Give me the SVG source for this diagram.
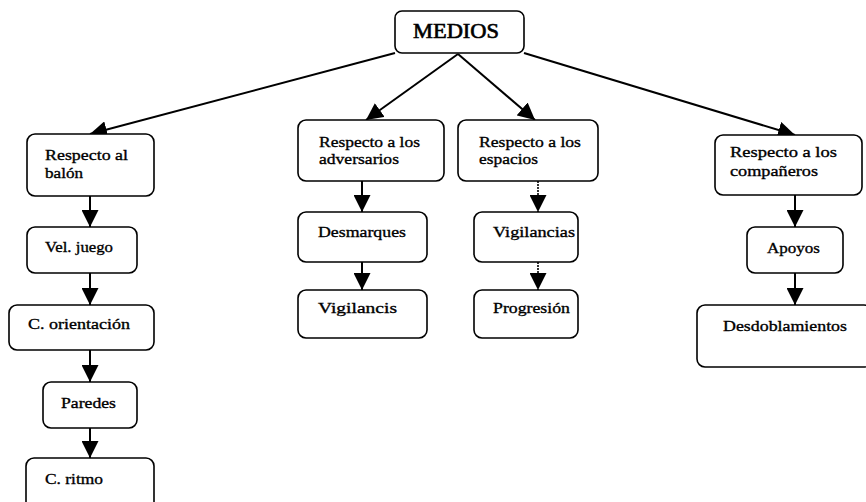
<svg xmlns="http://www.w3.org/2000/svg" width="866" height="502" viewBox="0 0 866 502">
<style>
.box{fill:#fff;stroke:#000;stroke-width:1.6}
.t{font-family:"Liberation Serif","Times New Roman",serif;font-size:15.5px;fill:#000;stroke:#000;stroke-width:0.35}
.big{font-size:20px;stroke-width:0.6}
.c{stroke:#000;stroke-width:2;fill:none;marker-end:url(#ah)}
.d{stroke-dasharray:2 1;stroke-width:1.6}
</style>
<defs>
<marker id="ah" markerUnits="userSpaceOnUse" markerWidth="17" markerHeight="17" refX="17" refY="8.5" orient="auto" viewBox="0 0 17 17">
<path d="M0,0 L17,8.5 L0,17 z" fill="#000"/>
</marker>
</defs>
<rect width="866" height="502" fill="#fff"/>
<g id="connectors">
<line class="c" x1="395" y1="53" x2="90" y2="134"/>
<line class="c" x1="458" y1="54" x2="366" y2="120"/>
<line class="c" x1="458" y1="54" x2="535" y2="120"/>
<line class="c" x1="524" y1="53" x2="795" y2="135"/>
<line class="c" x1="90" y1="196" x2="90" y2="227"/>
<line class="c" x1="90" y1="273" x2="90" y2="305"/>
<line class="c" x1="90" y1="350" x2="90" y2="382"/>
<line class="c" x1="90" y1="428" x2="90" y2="458"/>
<line class="c" x1="362" y1="181" x2="362" y2="212"/>
<line class="c" x1="362" y1="262" x2="362" y2="290"/>
<line class="c d" x1="538" y1="181" x2="538" y2="212"/>
<line class="c d" x1="538" y1="262" x2="538" y2="290"/>
<line class="c" x1="795" y1="195" x2="795" y2="227"/>
<line class="c" x1="795" y1="273" x2="795" y2="305"/>
</g>
<g id="medios">
<rect class="box" x="395" y="11" width="129" height="42" rx="7"/>
<text class="t big" x="413" y="38" textLength="86" lengthAdjust="spacingAndGlyphs">MEDIOS</text>
</g>
<g id="balon">
<rect class="box" x="27" y="134" width="127" height="62" rx="8"/>
<text class="t" x="45" y="160" textLength="83" lengthAdjust="spacingAndGlyphs">Respecto al</text>
<text class="t" x="45" y="178" textLength="38" lengthAdjust="spacingAndGlyphs">balón</text>
</g>
<g id="veljuego">
<rect class="box" x="27" y="227" width="110" height="46" rx="8"/>
<text class="t" x="45" y="252" textLength="68" lengthAdjust="spacingAndGlyphs">Vel. juego</text>
</g>
<g id="orientacion">
<rect class="box" x="9" y="305" width="145" height="45" rx="8"/>
<text class="t" x="28" y="329" textLength="102" lengthAdjust="spacingAndGlyphs">C. orientación</text>
</g>
<g id="paredes">
<rect class="box" x="43" y="382" width="94" height="46" rx="8"/>
<text class="t" x="61" y="408" textLength="55" lengthAdjust="spacingAndGlyphs">Paredes</text>
</g>
<g id="ritmo">
<rect class="box" x="26" y="458" width="128" height="60" rx="8"/>
<text class="t" x="45" y="484" textLength="58" lengthAdjust="spacingAndGlyphs">C. ritmo</text>
</g>
<g id="adversarios">
<rect class="box" x="298" y="120" width="146" height="61" rx="8"/>
<text class="t" x="319" y="147" textLength="101" lengthAdjust="spacingAndGlyphs">Respecto a los</text>
<text class="t" x="319" y="164" textLength="80" lengthAdjust="spacingAndGlyphs">adversarios</text>
</g>
<g id="espacios">
<rect class="box" x="458" y="120" width="140" height="61" rx="8"/>
<text class="t" x="479" y="147" textLength="102" lengthAdjust="spacingAndGlyphs">Respecto a los</text>
<text class="t" x="479" y="164" textLength="59" lengthAdjust="spacingAndGlyphs">espacios</text>
</g>
<g id="desmarques">
<rect class="box" x="298" y="212" width="129" height="50" rx="8"/>
<text class="t" x="318" y="237" textLength="88" lengthAdjust="spacingAndGlyphs">Desmarques</text>
</g>
<g id="vigilancias">
<rect class="box" x="474" y="212" width="104" height="50" rx="8"/>
<text class="t" x="493" y="237" textLength="82" lengthAdjust="spacingAndGlyphs">Vigilancias</text>
</g>
<g id="vigilancis">
<rect class="box" x="298" y="290" width="129" height="48" rx="8"/>
<text class="t" x="318" y="313" textLength="79" lengthAdjust="spacingAndGlyphs">Vigilancis</text>
</g>
<g id="progresion">
<rect class="box" x="474" y="290" width="104" height="48" rx="8"/>
<text class="t" x="493" y="313" textLength="77" lengthAdjust="spacingAndGlyphs">Progresión</text>
</g>
<g id="companeros">
<rect class="box" x="715" y="135" width="147" height="60" rx="8"/>
<text class="t" x="730" y="157" textLength="107" lengthAdjust="spacingAndGlyphs">Respecto a los</text>
<text class="t" x="730" y="176" textLength="88" lengthAdjust="spacingAndGlyphs">compañeros</text>
</g>
<g id="apoyos">
<rect class="box" x="747" y="227" width="96" height="46" rx="8"/>
<text class="t" x="767" y="253" textLength="53" lengthAdjust="spacingAndGlyphs">Apoyos</text>
</g>
<g id="desdoblamientos">
<rect class="box" x="697" y="305" width="175" height="62" rx="8"/>
<text class="t" x="723" y="331" textLength="124" lengthAdjust="spacingAndGlyphs">Desdoblamientos</text>
</g>
</svg>
